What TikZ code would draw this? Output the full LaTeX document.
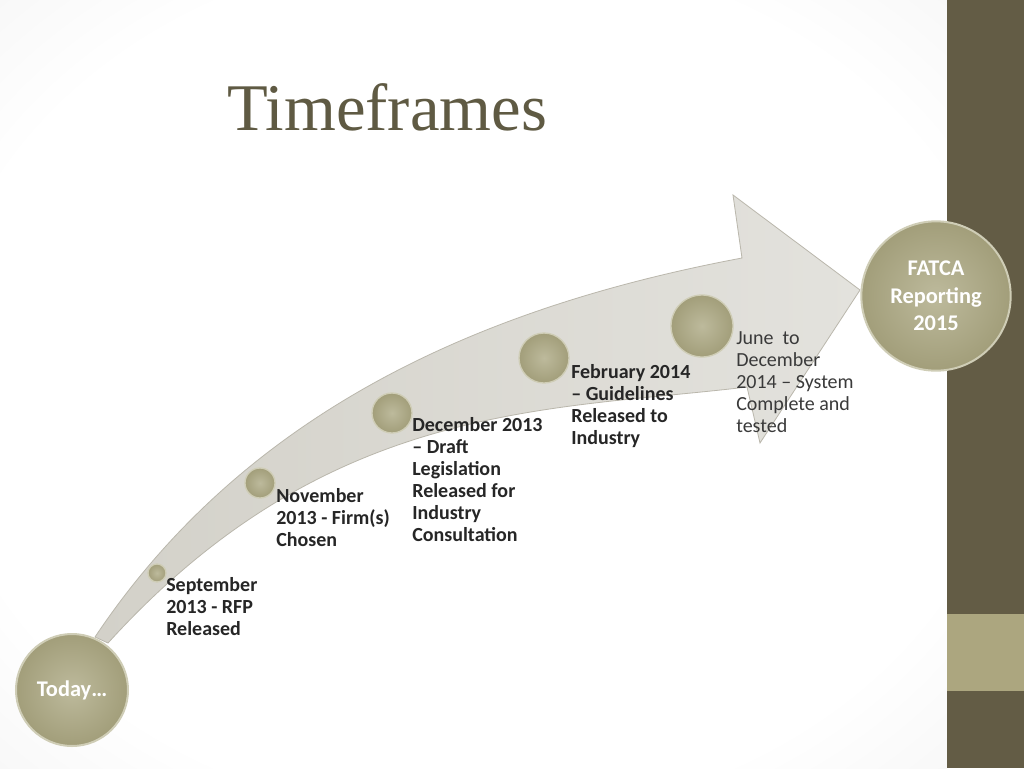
\documentclass[tikz,border=0pt]{standalone}
\usepackage{fontspec}
\setmainfont{Carlito}
\newfontfamily\titlefont{Liberation Serif}
\definecolor{olivedark}{HTML}{635C45}
\definecolor{olivelight}{HTML}{ACA67F}
\definecolor{ballfill}{HTML}{A29E7A}
\definecolor{ballhi}{HTML}{BDBA9C}
\definecolor{rimcol}{HTML}{CFCDB6}
\definecolor{titlecol}{HTML}{5F5A43}
\definecolor{bandA}{HTML}{D3D1C9}
\definecolor{bandB}{HTML}{E3E2DD}
\definecolor{bandline}{HTML}{BAB7AC}
\definecolor{labelcol}{HTML}{262626}
\definecolor{plaincol}{HTML}{3A3A3A}
\pgfdeclareradialshading{vign}{\pgfpoint{0bp}{0bp}}{color(0bp)=(white); color(28bp)=(white); color(72bp)=(black!16)}
\begin{document}
\begin{tikzpicture}[x=0.75pt,y=-0.75pt,
  milestone/.style={circle, inner sep=0pt, draw=rimcol, line width=1pt, inner color=ballhi, outer color=ballfill},
  bigball/.style={milestone, line width=1.5pt, text=white, align=center, font=\bfseries\fontsize{16.8pt}{20.5pt}\selectfont},
  lbl/.style={anchor=north west, inner sep=0pt, align=left, text=labelcol, font=\bfseries\fontsize{15pt}{16.5pt}\selectfont},
  plainlbl/.style={lbl, text=plaincol, font=\fontsize{15pt}{16.5pt}\selectfont}]
\useasboundingbox (0,0) rectangle (1024,768);
% background
\shade[shading=vign] (0,0) rectangle (947,768);
\fill[olivedark] (947,0) rectangle (1024,768);
\fill[olivelight] (947,614) rectangle (1024,691);
% title
\node[font=\titlefont\fontsize{50pt}{56pt}\selectfont, text=titlecol, anchor=base west, inner sep=0pt] (title) at (227,130) {Timeframes};
% curved arrow band
\path[draw=bandline, line width=0.6pt, left color=bandA, right color=bandB]
  (95,637) .. controls (250,405) and (492,305) .. (742,258)
  -- (733,195) -- (860,290) -- (760,443) -- (747,387)
  .. controls (547,411) and (328,401) .. (108,643) -- cycle;
% end circles
\node[bigball, minimum size=84pt] (today) at (72,690) {Today…};
\node[bigball, minimum size=112pt] (fatca) at (936,296) {FATCA\\Reporting\\2015};
% milestone balls
\node[milestone, minimum size=13.5pt] (m1) at (157,573) {};
\node[milestone, minimum size=22.5pt] (m2) at (260,483) {};
\node[milestone, minimum size=30pt] (m3) at (392,413) {};
\node[milestone, minimum size=37.5pt] (m4) at (544,358) {};
\node[milestone, minimum size=46.5pt] (m5) at (702,326) {};
% labels
\node[lbl] (l1) at (166,577) {September\\2013 - RFP\\Released};
\node[lbl] (l2) at (276,488) {November\\2013 - Firm(s)\\Chosen};
\node[lbl] (l3) at (412,417) {December 2013\\– Draft\\Legislation\\Released for\\Industry\\Consultation};
\node[lbl] (l4) at (571,364) {February 2014\\– Guidelines\\Released to\\Industry};
\node[plainlbl] (l5) at (736,331) {June\ \ to\\December\\2014 – System\\Complete and\\tested};
\end{tikzpicture}
\end{document}
